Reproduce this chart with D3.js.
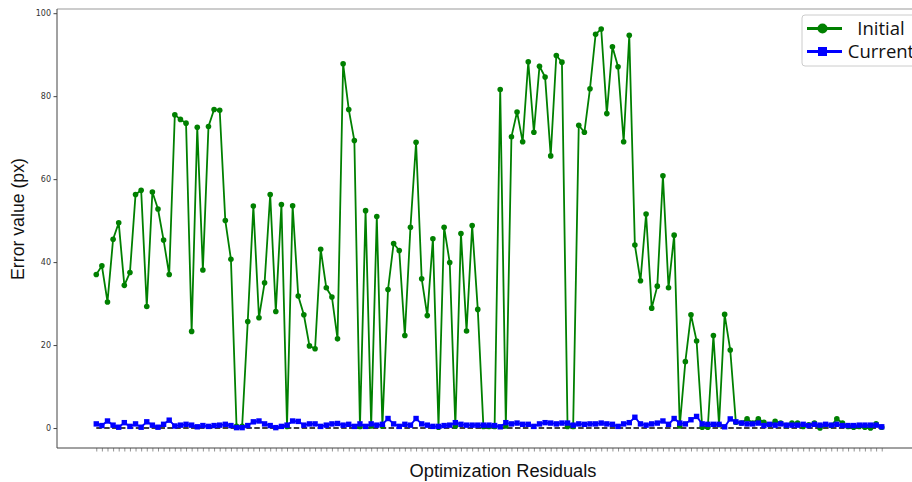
<!DOCTYPE html>
<html>
<head>
<meta charset="utf-8">
<script src="https://cdn.jsdelivr.net/npm/d3@7"></script>
<style>
  body { margin: 0; background: #fff; }
  svg { display: block; }
</style>
</head>
<body>
<svg id="chart" width="912" height="482"></svg>
<script>
var seriesNames = ["Initial", "Current"];
var yTicks = [0, 20, 40, 60, 80, 100];

var initial = [
  37.0, 39.1, 30.4, 45.5, 49.5, 34.4, 37.5, 56.3, 57.3, 29.3,
  56.9, 52.8, 45.3, 37.0, 75.5, 74.4, 73.5, 23.3, 72.5, 38.1,
  72.7, 76.8, 76.6, 50.0, 40.7, 0.4, 0.4, 25.7, 53.5, 26.6,
  35.0, 56.3, 28.1, 53.9, 0.4, 53.6, 31.8, 27.3, 19.8, 19.1,
  43.1, 33.8, 31.6, 21.5, 87.8, 76.8, 69.3, 0.4, 52.4, 0.5,
  51.0, 0.5, 33.4, 44.5, 42.8, 22.3, 48.4, 68.9, 36.0, 27.1,
  45.6, 0.2, 48.4, 39.9, 0.5, 46.9, 23.4, 48.8, 28.6, 0.4,
  0.4, 0.4, 81.6, 0.5, 70.2, 76.2, 69.0, 88.3, 71.3, 87.2,
  84.6, 65.6, 89.8, 88.2, 0.4, 0.4, 73.0, 71.3, 81.8, 94.9,
  96.2, 75.8, 91.9, 87.1, 69.0, 94.7, 44.1, 35.5, 51.6, 28.9,
  34.2, 60.8, 33.8, 46.5, 0.5, 16.0, 27.3, 21.0, 0.2, 0.2,
  22.3, 0.8, 27.4, 18.8, 1.4, 1.2, 2.2, 1.2, 2.2, 1.4,
  0.8, 1.6, 1.2, 0.6, 1.2, 1.2, 0.4, 0.8, 1.2, 0.0,
  0.8, 0.6, 2.2, 1.2, 0.4, 0.2, 0.4, 0.2, 0.0, 1.0,
  0.2
];

var current = [
  1.0, 0.6, 1.7, 0.7, 0.2, 1.3, 0.4, 1.0, 0.2, 1.5,
  0.7, 0.2, 0.9, 1.9, 0.5, 0.7, 0.9, 0.7, 0.3, 0.6,
  0.4, 0.6, 0.7, 0.9, 0.6, 0.1, 0.1, 0.6, 1.5, 1.7,
  1.0, 0.6, 0.1, 0.4, 0.7, 1.7, 1.6, 0.7, 1.0, 1.0,
  0.4, 0.7, 1.0, 1.1, 0.7, 0.9, 0.4, 1.0, 0.4, 1.0,
  0.7, 0.9, 2.3, 1.0, 0.4, 0.9, 0.7, 2.3, 1.0, 0.7,
  0.4, 0.4, 0.6, 0.7, 1.3, 0.9, 0.7, 0.7, 0.7, 0.7,
  0.7, 0.6, 0.3, 1.3, 1.0, 1.2, 0.9, 0.9, 0.4, 1.0,
  1.3, 1.2, 1.0, 1.2, 1.2, 0.7, 1.0, 0.9, 1.0, 1.0,
  1.2, 1.0, 0.9, 0.4, 1.0, 1.3, 2.6, 1.0, 0.7, 1.0,
  1.2, 1.7, 0.9, 2.3, 1.2, 1.0, 2.0, 2.8, 1.0, 0.9,
  0.9, 0.9, 0.3, 2.2, 1.5, 1.2, 1.0, 1.0, 1.2, 0.6,
  0.9, 0.7, 1.0, 0.7, 0.7, 0.7, 0.9, 0.6, 0.9, 0.7,
  0.9, 0.7, 0.9, 0.6, 0.6, 0.6, 0.7, 0.7, 0.7, 0.7,
  0.3
];

var svg = d3.select("#chart");
var plotL = 57, plotT = 9, plotR = 921, plotB = 448;
var n = initial.length;

var x = d3.scaleLinear().domain([-7, n - 1 + 7]).range([plotL, plotR]);
var y = d3.scaleLinear().domain([-4.81, 101.01]).range([plotB, plotT]);

// axes
var yAxis = svg.append("g")
  .attr("transform", "translate(" + plotL + ",0)")
  .call(d3.axisLeft(y).tickValues(yTicks).tickSize(3.5).tickPadding(2.5).tickSizeOuter(0));
yAxis.select(".domain").remove();
yAxis.selectAll("text").attr("font-family", "DejaVu Sans").attr("font-size", 8).attr("fill", "#333");
yAxis.selectAll("line").attr("stroke", "#444");

var xAxis = svg.append("g")
  .attr("transform", "translate(0," + plotB + ")")
  .call(d3.axisBottom(x).tickValues(d3.range(n)).tickFormat("").tickSize(3.5).tickSizeOuter(0));
xAxis.select(".domain").remove();
xAxis.selectAll("line").attr("stroke", "#777").attr("stroke-width", 0.8);

// spines
svg.append("line").attr("x1", plotL).attr("x2", plotR).attr("y1", plotT).attr("y2", plotT)
  .attr("stroke", "#999").attr("stroke-width", 1.2);
svg.append("line").attr("x1", plotL).attr("x2", plotL).attr("y1", plotT).attr("y2", plotB)
  .attr("stroke", "#444").attr("stroke-width", 1);
svg.append("line").attr("x1", plotL).attr("x2", plotR).attr("y1", plotB).attr("y2", plotB)
  .attr("stroke", "#444").attr("stroke-width", 1);

// zero reference
svg.append("line")
  .attr("x1", x(0)).attr("x2", x(n - 1))
  .attr("y1", y(0)).attr("y2", y(0))
  .attr("stroke", "#000").attr("stroke-width", 1.5)
  .attr("stroke-dasharray", "5.5,2.4");

var line = d3.line().x(function(d, i) { return x(i); }).y(function(d) { return y(d); });

svg.append("path").datum(initial)
  .attr("d", line).attr("fill", "none")
  .attr("stroke", "#008000").attr("stroke-width", 1.8);
svg.append("g").selectAll("circle").data(initial).enter().append("circle")
  .attr("cx", function(d, i) { return x(i); })
  .attr("cy", function(d) { return y(d); })
  .attr("r", 2.8).attr("fill", "#008000");

svg.append("path").datum(current)
  .attr("d", line).attr("fill", "none")
  .attr("stroke", "#0000ff").attr("stroke-width", 1.8);
svg.append("g").selectAll("rect").data(current).enter().append("rect")
  .attr("x", function(d, i) { return x(i) - 2.7; })
  .attr("y", function(d) { return y(d) - 2.7; })
  .attr("width", 5.4).attr("height", 5.4).attr("fill", "#0000ff");

// axis titles
svg.append("text")
  .attr("transform", "translate(23.5,219) rotate(-90)")
  .attr("text-anchor", "middle")
  .attr("font-family", "Liberation Sans").attr("font-size", 17.7).attr("fill", "#111")
  .text("Error value (px)");
svg.append("text")
  .attr("x", 503).attr("y", 477)
  .attr("text-anchor", "middle")
  .attr("font-family", "Liberation Sans").attr("font-size", 18.3).attr("fill", "#111")
  .text("Optimization Residuals");

// legend
var legend = svg.append("g").attr("transform", "translate(802,15)");
legend.append("rect")
  .attr("width", 130).attr("height", 51).attr("rx", 3)
  .attr("fill", "#fff").attr("fill-opacity", 0.8)
  .attr("stroke", "#ccc").attr("stroke-width", 1);
var colors = ["#008000", "#0000ff"];
seriesNames.forEach(function(name, k) {
  var ly = 13.5 + k * 23;
  legend.append("line").attr("x1", 5).attr("x2", 40).attr("y1", ly).attr("y2", ly)
    .attr("stroke", colors[k]).attr("stroke-width", 3);
  if (k === 0) {
    legend.append("circle").attr("cx", 20.5).attr("cy", ly).attr("r", 5).attr("fill", colors[k]);
  } else {
    legend.append("rect").attr("x", 16).attr("y", ly - 4.5).attr("width", 9).attr("height", 9).attr("fill", colors[k]);
  }
  legend.append("text")
    .attr("x", 79).attr("y", ly + 6.5)
    .attr("text-anchor", "middle")
    .attr("font-family", "Open Sans").attr("font-size", 18.5).attr("fill", "#111")
    .text(name);
});
</script>
</body>
</html>
